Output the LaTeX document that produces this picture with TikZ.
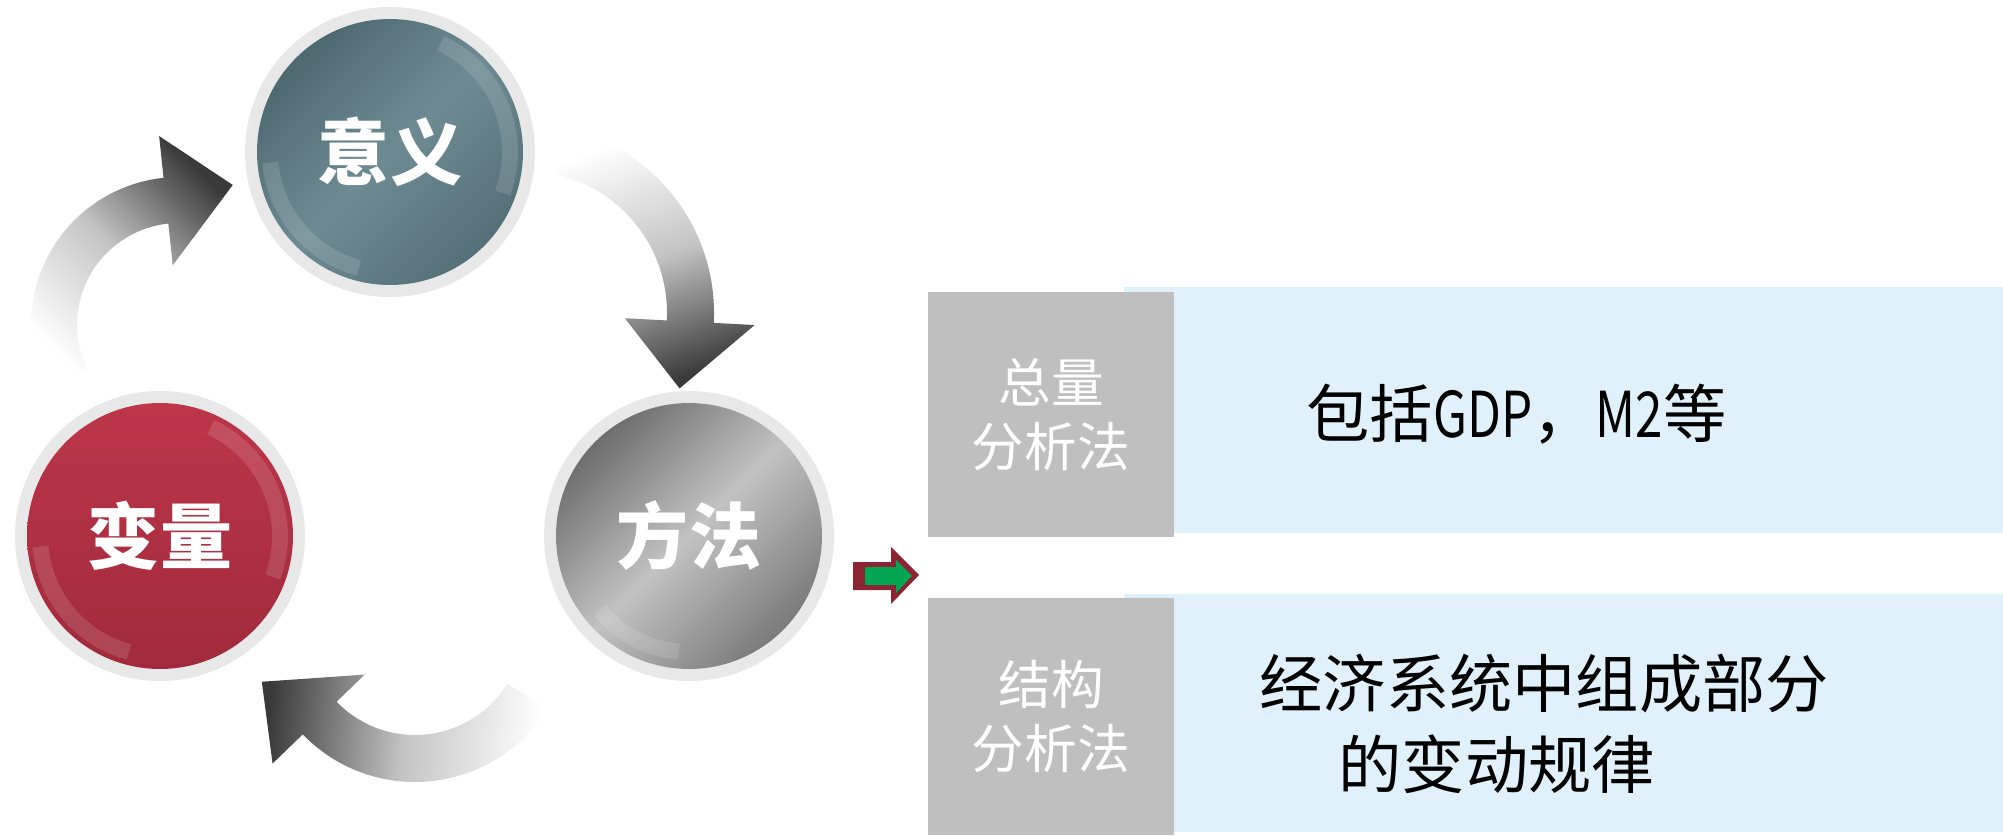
\documentclass[tikz,border=0pt]{standalone}
\usepackage{fontspec}
\setmainfont{Noto Sans CJK SC}
\usetikzlibrary{positioning}

\definecolor{ringgray}{HTML}{E8E8E8}
\definecolor{tealdark}{HTML}{4E6870}
\definecolor{teallight}{HTML}{6E8B93}
\definecolor{redtop}{HTML}{BD364A}
\definecolor{redbot}{HTML}{A02A3B}
\definecolor{greydark}{HTML}{6E6E6E}
\definecolor{greylight}{HTML}{C2C2C2}
\definecolor{boxgray}{HTML}{BFBFBF}
\definecolor{boxblue}{HTML}{E0F1FB}
\definecolor{arrowdark}{HTML}{3A3A3A}
\definecolor{arrowmid}{HTML}{C4C4C4}
\definecolor{maroon}{HTML}{8B2333}
\definecolor{arrowgreen}{HTML}{00A651}

\tikzset{%
  % Specifications for style of nodes:
          ring/.style = {circle, fill=ringgray, minimum size=5.8cm, inner sep=0pt},
          ball/.style = {circle, minimum size=5.32cm, inner sep=0pt, text=white,
                         font=\fontsize{41}{41}\selectfont\bfseries},
      tealball/.style = {ball, top color=tealdark, bottom color=tealdark!80!teallight,
                         middle color=teallight, shading angle=45},
       redball/.style = {ball, top color=redtop, bottom color=redbot},
      greyball/.style = {ball, top color=greydark, bottom color=greydark!85!greylight,
                         middle color=greylight, shading angle=45},
       bluebox/.style = {rectangle, fill=boxblue, minimum width=17.58cm, inner sep=0pt},
       greybox/.style = {rectangle, fill=boxgray, minimum width=4.92cm, inner sep=0pt,
                         text=white, align=center, font=\fontsize{30}{36.8}\selectfont},
      bodytext/.style = {inner sep=0pt, align=left, font=\fontsize{36}{46.5}\selectfont},
     fadearrow/.style = {top color=white, bottom color=arrowdark, middle color=arrowmid},
         gloss/.style = {white, opacity=.13, line width=.32cm},
}
\newcommand{\narrow}[1]{\scalebox{0.78}[1]{#1}}

\begin{document}
\begin{tikzpicture}[x=0.02cm, y=-0.02cm]
  \useasboundingbox (0,0) rectangle (2003,835);
  \fill[white] (0,0) rectangle (2003,835);

  % curved arrows of the cycle
  \begin{scope}[shift={(525,313)}]
    \shade[fadearrow, shading angle=20] (-78:189) arc[start angle=-78, end angle=3, radius=189]
      -- (3:230) -- (26:172) -- (3:100) -- (3:142) arc[start angle=3, end angle=-78, radius=142] -- cycle;
  \end{scope}
  \begin{scope}[shift={(415,626)}]
    \shade[fadearrow, shading angle=-95] (32:156) arc[start angle=32, end angle=136, radius=156]
      -- (136:198) -- (160:163) -- (136:70) -- (136:109) arc[start angle=136, end angle=32, radius=109] -- cycle;
  \end{scope}
  \begin{scope}[shift={(179,325)}]
    \shade[fadearrow, shading angle=135] (155:148) arc[start angle=155, end angle=264, radius=148]
      -- (264:190) -- (291:150) -- (264:60) -- (264:102) arc[start angle=264, end angle=155, radius=102] -- cycle;
  \end{scope}

  % Specification of nodes (position, etc.)
  \node (yiyiring)      [ring] at (390,152) {};
  \node (fangfaring)    [ring] at (689,536) {};
  \node (bianliangring) [ring] at (160,536) {};

  \node (yiyi)      [tealball] at (yiyiring) {意义};
  \node (fangfa)    [greyball] at (fangfaring) {方法};
  \node (bianliang) [redball]  at (bianliangring) {变量};

  % glossy rims
  \draw[gloss] (yiyi.center) ++(-65:120) arc[start angle=-65, end angle=20, radius=120];
  \draw[gloss] (yiyi.center) ++(105:120) arc[start angle=105, end angle=175, radius=120];
  \draw[gloss] (bianliang.center) ++(-65:120) arc[start angle=-65, end angle=20, radius=120];
  \draw[gloss] (bianliang.center) ++(105:120) arc[start angle=105, end angle=175, radius=120];
  \draw[gloss] (fangfa.center) ++(95:116) arc[start angle=95, end angle=140, radius=116];

  % pointer
  \fill[maroon] (853,562) -- (891,562) -- (891,547) -- (919,575) -- (891,604) -- (891,590) -- (853,590) -- cycle;
  \fill[arrowgreen] (865,567) -- (896,567) -- (896,560) -- (912,576) -- (896,593) -- (896,585) -- (865,585) -- cycle;

  % two kinds of analysis
  \node (zlback) [bluebox, minimum height=4.92cm] at (1563.5,410) {};
  \node (zl)     [greybox, minimum height=4.9cm]  at (1051,414.5) {总量\\分析法};
  \node (zltext) [bodytext, right=2.64cm of zl] {包括\narrow{GDP}，\narrow{M2}等};

  \node (jgback) [bluebox, minimum height=4.76cm] at (1563.5,713) {};
  \node (jg)     [greybox, minimum height=4.74cm] at (1051,716.5) {结构\\分析法};
  \node (jgtext) [bodytext, right=1.7cm of jg, yshift=-0.15cm] {经济系统中组成部分\\\hspace{1.25em}的变动规律};

\end{tikzpicture}
\end{document}
